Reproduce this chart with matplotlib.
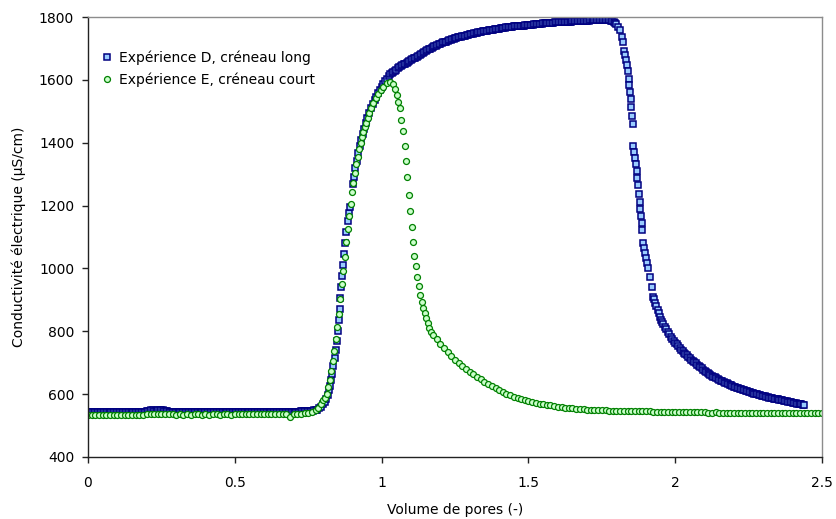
import matplotlib
matplotlib.use('Agg')
import matplotlib.pyplot as plt

# Expérience D : créneau long (carrés bleus)
d_x = [
    # palier initial
    0.000, 0.005, 0.010, 0.015, 0.020, 0.025, 0.030, 0.035, 0.040, 0.045,
    0.050, 0.055, 0.060, 0.065, 0.070, 0.075, 0.080, 0.085, 0.090, 0.095,
    0.100, 0.105, 0.110, 0.115, 0.120, 0.125, 0.130, 0.135, 0.140, 0.145,
    0.150, 0.155, 0.160, 0.165, 0.170, 0.175, 0.180, 0.185, 0.190, 0.195,
    0.200, 0.205, 0.210, 0.215, 0.220, 0.225, 0.230, 0.235, 0.240, 0.245,
    0.250, 0.255, 0.260, 0.265, 0.270, 0.275, 0.280, 0.285, 0.290, 0.295,
    0.300, 0.305, 0.310, 0.315, 0.320, 0.325, 0.330, 0.335, 0.340, 0.345,
    0.350, 0.355, 0.360, 0.365, 0.370, 0.375, 0.380, 0.385, 0.390, 0.395,
    0.400, 0.405, 0.410, 0.415, 0.420, 0.425, 0.430, 0.435, 0.440, 0.445,
    0.450, 0.455, 0.460, 0.465, 0.470, 0.475, 0.480, 0.485, 0.490, 0.495,
    0.500, 0.505, 0.510, 0.515, 0.520, 0.525, 0.530, 0.535, 0.540, 0.545,
    0.550, 0.555, 0.560, 0.565, 0.570, 0.575, 0.580, 0.585, 0.590, 0.595,
    0.600, 0.605, 0.610, 0.615, 0.620, 0.625, 0.630, 0.635, 0.640, 0.645,
    0.650, 0.655, 0.660, 0.665, 0.670, 0.675, 0.680, 0.685, 0.690, 0.695,
    0.700, 0.705, 0.710, 0.715, 0.720, 0.725, 0.730, 0.735, 0.740, 0.745,
    0.750, 0.755, 0.760, 0.765, 0.770, 0.775, 0.780,
    # montée
    0.788, 0.795, 0.801, 0.806, 0.811, 0.816, 0.820, 0.824, 0.828, 0.832,
    0.836, 0.840, 0.844, 0.848, 0.851, 0.854, 0.857, 0.860, 0.863, 0.866,
    0.869, 0.872, 0.876, 0.880, 0.884, 0.888, 0.892, 0.903, 0.907, 0.911,
    0.915, 0.920, 0.925, 0.930, 0.935, 0.940, 0.946, 0.952, 0.958, 0.964,
    0.970, 0.976, 0.982, 0.988, 0.994, 1.000, 1.006, 1.012, 1.018, 1.024,
    1.030,
    # plateau
    1.035, 1.040, 1.045, 1.050, 1.055, 1.060, 1.065, 1.070, 1.075, 1.080,
    1.085, 1.090, 1.095, 1.100, 1.105, 1.110, 1.115, 1.120, 1.125, 1.130,
    1.135, 1.140, 1.145, 1.150, 1.155, 1.160, 1.165, 1.170, 1.175, 1.180,
    1.185, 1.190, 1.195, 1.200, 1.205, 1.210, 1.215, 1.220, 1.225, 1.230,
    1.235, 1.240, 1.245, 1.250, 1.255, 1.260, 1.265, 1.270, 1.275, 1.280,
    1.285, 1.290, 1.295, 1.300, 1.305, 1.310, 1.315, 1.320, 1.325, 1.330,
    1.335, 1.340, 1.345, 1.350, 1.355, 1.360, 1.365, 1.370, 1.375, 1.380,
    1.385, 1.390, 1.395, 1.400, 1.405, 1.410, 1.415, 1.420, 1.425, 1.430,
    1.435, 1.440, 1.445, 1.450, 1.455, 1.460, 1.465, 1.470, 1.475, 1.480,
    1.485, 1.490, 1.495, 1.500, 1.505, 1.510, 1.515, 1.520, 1.525, 1.530,
    1.535, 1.540, 1.545, 1.550, 1.555, 1.560, 1.565, 1.570, 1.575, 1.580,
    1.585, 1.590, 1.595, 1.600, 1.605, 1.610, 1.615, 1.620, 1.625, 1.630,
    1.635, 1.640, 1.645, 1.650, 1.655, 1.660, 1.665, 1.670, 1.675, 1.680,
    1.685, 1.690, 1.695, 1.700, 1.705, 1.710, 1.715, 1.720, 1.725, 1.730,
    1.735, 1.740, 1.745, 1.750, 1.755, 1.760, 1.765, 1.770, 1.775, 1.780,
    1.785, 1.790, 1.795,
    # descente
    1.800, 1.806, 1.812, 1.818, 1.821, 1.826, 1.828, 1.831, 1.835, 1.838,
    1.842, 1.844, 1.846, 1.848, 1.851, 1.853, 1.855, 1.857, 1.860, 1.862,
    1.865, 1.869, 1.871, 1.874, 1.877, 1.879, 1.881, 1.884, 1.886, 1.888,
    1.890, 1.893, 1.896, 1.899, 1.903, 1.908, 1.914, 1.920, 1.925,
    # traînée
    1.928, 1.932, 1.936, 1.940, 1.944, 1.948, 1.952, 1.956, 1.960, 1.965,
    1.970, 1.975, 1.980, 1.985, 1.990, 1.995,
    2.000, 2.005, 2.010, 2.015, 2.020, 2.025, 2.030, 2.035, 2.040, 2.045,
    2.050, 2.055, 2.060, 2.065, 2.070, 2.075, 2.080, 2.085, 2.090, 2.095,
    2.100, 2.105, 2.110, 2.115, 2.120, 2.125, 2.130, 2.135, 2.140, 2.145,
    2.150, 2.155, 2.160, 2.165, 2.170, 2.175, 2.180, 2.185, 2.190, 2.195,
    2.200, 2.205, 2.210, 2.215, 2.220, 2.225, 2.230, 2.235, 2.240, 2.245,
    2.250, 2.255, 2.260, 2.265, 2.270, 2.275, 2.280, 2.285, 2.290, 2.295,
    2.300, 2.305, 2.310, 2.315, 2.320, 2.325, 2.330, 2.335, 2.340, 2.345,
    2.350, 2.355, 2.360, 2.365, 2.370, 2.375, 2.380, 2.385, 2.390, 2.395,
    2.400, 2.405, 2.410, 2.415, 2.420, 2.425, 2.430, 2.435, 2.440,
]
d_y = [
    543, 543, 543, 544, 544, 543, 543, 543, 543, 544,
    544, 543, 543, 543, 543, 544, 543, 543, 543, 543,
    543, 544, 544, 543, 543, 543, 543, 544, 544, 543,
    543, 544, 544, 543, 543, 544, 544, 544, 544, 544,
    545, 546, 547, 548, 549, 547, 546, 547, 548, 549,
    550, 548, 547, 546, 545, 544, 544, 544, 544, 544,
    544, 543, 543, 544, 544, 544, 544, 543, 543, 544,
    544, 544, 544, 543, 543, 544, 544, 544, 544, 544,
    544, 543, 543, 544, 544, 544, 544, 543, 544, 544,
    543, 544, 544, 544, 544, 544, 544, 543, 543, 544,
    544, 544, 544, 543, 543, 544, 544, 544, 544, 544,
    544, 543, 543, 544, 544, 544, 544, 544, 544, 544,
    544, 543, 543, 544, 544, 544, 544, 544, 544, 543,
    543, 544, 544, 544, 544, 544, 544, 543, 543, 544,
    544, 544, 544, 544, 544, 545, 545, 545, 545, 546,
    546, 546, 547, 547, 548, 549, 550,
    555, 560, 567, 575, 586, 598, 612, 627, 645, 665,
    690, 715, 742, 770, 800, 835, 870, 905, 940, 975,
    1010, 1045, 1080, 1115, 1150, 1175, 1195, 1268, 1292, 1318,
    1342, 1366, 1390, 1410, 1428, 1445, 1462, 1478, 1494, 1509,
    1522, 1535, 1547, 1558, 1568, 1578, 1587, 1596, 1604, 1611,
    1618,
    1621, 1625, 1629, 1633, 1637, 1640, 1643, 1646, 1649, 1652,
    1655, 1658, 1660, 1663, 1666, 1669, 1671, 1674, 1677, 1680,
    1682, 1685, 1688, 1691, 1694, 1697, 1699, 1702, 1704, 1707,
    1709, 1711, 1713, 1715, 1717, 1719, 1720, 1722, 1724, 1726,
    1727, 1729, 1730, 1732, 1733, 1735, 1736, 1738, 1739, 1740,
    1741, 1743, 1744, 1745, 1746, 1747, 1748, 1749, 1750, 1751,
    1752, 1753, 1754, 1755, 1756, 1757, 1758, 1759, 1759, 1760,
    1761, 1762, 1762, 1763, 1764, 1765, 1765, 1766, 1767, 1768,
    1768, 1769, 1769, 1770, 1770, 1771, 1771, 1772, 1772, 1773,
    1773, 1774, 1774, 1775, 1775, 1776, 1776, 1777, 1777, 1778,
    1778, 1779, 1779, 1780, 1780, 1780, 1780, 1781, 1781, 1782,
    1782, 1783, 1783, 1783, 1783, 1784, 1784, 1784, 1784, 1785,
    1785, 1785, 1785, 1786, 1786, 1786, 1786, 1787, 1787, 1787,
    1787, 1788, 1788, 1788, 1788, 1789, 1789, 1789, 1789, 1790,
    1790, 1790, 1790, 1790, 1790, 1790, 1790, 1789, 1789, 1788,
    1787, 1785, 1782,
    1778, 1768, 1759, 1737, 1721, 1693, 1679, 1663, 1647, 1628,
    1603, 1584, 1562, 1538, 1513, 1485, 1459, 1390, 1371, 1352,
    1332, 1311, 1287, 1265, 1237, 1212, 1189, 1167, 1144, 1122,
    1080, 1064, 1048, 1032, 1016, 1000, 974, 942, 910,
    903, 891, 880, 869, 858, 847, 837, 829, 822, 814,
    806, 798, 790, 783, 776, 770,
    764, 758, 752, 747, 742, 737, 732, 727, 723, 718,
    714, 710, 706, 702, 698, 694, 690, 686, 682, 678,
    675, 671, 668, 665, 662, 659, 656, 653, 651, 648,
    646, 643, 641, 638, 636, 634, 632, 630, 628, 626,
    624, 622, 620, 618, 617, 615, 614, 612, 611, 609,
    608, 606, 605, 603, 602, 600, 599, 598, 597, 595,
    594, 593, 592, 590, 589, 588, 587, 586, 585, 584,
    583, 582, 581, 580, 579, 578, 577, 576, 575, 574,
    573, 572, 571, 570, 569, 568, 567, 566, 565,
]

# Expérience E : créneau court (cercles verts)
e_x = [
    # palier initial
    0.000, 0.013, 0.025, 0.038, 0.050, 0.063, 0.075, 0.088, 0.100, 0.113,
    0.125, 0.138, 0.150, 0.163, 0.175, 0.188, 0.200, 0.213, 0.225, 0.238,
    0.250, 0.263, 0.275, 0.288, 0.300, 0.313, 0.325, 0.338, 0.350, 0.363,
    0.375, 0.388, 0.400, 0.413, 0.425, 0.438, 0.450, 0.463, 0.475, 0.488,
    0.500, 0.513, 0.525, 0.538, 0.550, 0.563, 0.575, 0.588, 0.600, 0.613,
    0.625, 0.638, 0.650, 0.663, 0.675, 0.688, 0.700, 0.713, 0.725, 0.738,
    0.750, 0.763,
    # montée
    0.775, 0.785, 0.795, 0.802, 0.808, 0.813, 0.818, 0.824, 0.829, 0.833,
    0.839, 0.845, 0.849, 0.855, 0.859, 0.864, 0.870, 0.874, 0.880, 0.885,
    0.890, 0.895, 0.899, 0.904, 0.909, 0.914, 0.920, 0.924, 0.929, 0.933,
    0.938, 0.942, 0.948, 0.953, 0.958, 0.964, 0.972, 0.981, 0.989, 0.997,
    1.006, 1.017, 1.029,
    # descente
    1.038, 1.046, 1.051, 1.057, 1.062, 1.066, 1.072, 1.079, 1.082, 1.087,
    1.092, 1.097, 1.103, 1.107, 1.111, 1.117, 1.122, 1.126, 1.132, 1.137,
    1.141, 1.147, 1.151, 1.157, 1.162, 1.168,
    # traînée
    1.175, 1.188, 1.200, 1.213, 1.225, 1.238, 1.250, 1.263, 1.275, 1.288,
    1.300, 1.313, 1.325, 1.338, 1.350, 1.363, 1.375, 1.388, 1.400, 1.413,
    1.425, 1.438, 1.450, 1.463, 1.475, 1.488, 1.500, 1.513, 1.525, 1.538,
    1.550, 1.563, 1.575, 1.588, 1.600, 1.613, 1.625, 1.638, 1.650, 1.663,
    1.675, 1.688, 1.700, 1.713, 1.725, 1.738, 1.750, 1.763, 1.775, 1.788,
    1.800, 1.813, 1.825, 1.838, 1.850, 1.863, 1.875, 1.888, 1.900, 1.913,
    1.925, 1.938, 1.950, 1.963, 1.975, 1.988, 2.000, 2.013, 2.025, 2.038,
    2.050, 2.063, 2.075, 2.088, 2.100, 2.113, 2.125, 2.138, 2.150, 2.163,
    2.175, 2.188, 2.200, 2.213, 2.225, 2.238, 2.250, 2.263, 2.275, 2.288,
    2.300, 2.313, 2.325, 2.338, 2.350, 2.363, 2.375, 2.388, 2.400, 2.413,
    2.425, 2.438, 2.450, 2.463, 2.475, 2.488, 2.500,
]
e_y = [
    535, 534, 534, 535, 534, 535, 534, 534, 535, 534,
    535, 534, 535, 535, 534, 535, 536, 536, 537, 536,
    536, 537, 536, 536, 535, 536, 535, 536, 535, 536,
    536, 535, 536, 535, 536, 536, 535, 536, 536, 535,
    536, 536, 537, 536, 536, 537, 536, 536, 537, 536,
    537, 536, 537, 536, 537, 527, 537, 538, 538, 539,
    541, 544,
    548, 557, 569, 580, 587, 600, 622, 646, 673, 705,
    738, 775, 813, 854, 903, 950, 993, 1037, 1083, 1125,
    1168, 1205, 1242, 1273, 1305, 1331, 1355, 1379, 1400, 1419,
    1435, 1451, 1462, 1478, 1494, 1510, 1525, 1541, 1555, 1568,
    1578, 1589, 1594,
    1587, 1570, 1553, 1529, 1510, 1473, 1436, 1389, 1342, 1290,
    1233, 1183, 1133, 1083, 1040, 1007, 972, 943, 915, 892,
    873, 857, 841, 826, 811, 797,
    788, 774, 760, 746, 733, 721, 710, 699, 689, 680,
    671, 663, 655, 647, 640, 633, 626, 619, 612, 606,
    601, 596, 592, 588, 584, 581, 578, 575, 573, 570,
    568, 566, 564, 562, 560, 558, 557, 556, 555, 554,
    553, 552, 551, 550, 549, 549, 548, 548, 547, 547,
    547, 546, 546, 546, 546, 545, 545, 545, 545, 545,
    544, 544, 544, 543, 543, 543, 543, 543, 543, 542,
    542, 542, 542, 542, 542, 541, 541, 542, 541, 541,
    541, 541, 541, 541, 540, 540, 540, 541, 540, 540,
    540, 540, 540, 540, 539, 540, 539, 539, 540, 539,
    539, 539, 539, 539, 539, 539, 539,
]

x_ticks = [0, 0.5, 1, 1.5, 2, 2.5]
x_tick_labels = ['0', '0.5', '1', '1.5', '2', '2.5']
y_ticks = [400, 600, 800, 1000, 1200, 1400, 1600, 1800]

plt.rcParams['font.family'] = ['DejaVu Sans']
plt.rcParams['font.size'] = 10

fig = plt.figure(figsize=(8.37, 5.19), dpi=100)
ax = fig.add_axes([0.1051, 0.1195, 0.8770, 0.8477])

ax.plot(d_x, d_y, linestyle='none', marker='s', markersize=4.1,
        markerfacecolor='#99CCFF', markeredgecolor='#000080', markeredgewidth=1.1,
        label='Expérience D, créneau long')
ax.plot(e_x, e_y, linestyle='none', marker='o', markersize=4.3,
        markerfacecolor='#CCFFCC', markeredgecolor='#008000', markeredgewidth=0.9,
        label='Expérience E, créneau court')

ax.set_xlim(0, 2.5)
ax.set_ylim(400, 1800)
ax.set_xticks(x_ticks)
ax.set_xticklabels(x_tick_labels)
ax.set_yticks(y_ticks)

for side in ['left', 'bottom']:
    ax.spines[side].set_color('#222222')
    ax.spines[side].set_linewidth(1.0)
for side in ['top', 'right']:
    ax.spines[side].set_color('#8c8c8c')
    ax.spines[side].set_linewidth(1.0)

ax.tick_params(axis='both', direction='out', length=4, width=1, color='#222222')
ax.tick_params(axis='x', pad=10)
ax.tick_params(axis='y', pad=6)

ax.set_xlabel('Volume de pores (-)', labelpad=9)
ax.set_ylabel('Conductivité électrique (µS/cm)', labelpad=9)

ax.legend(loc='upper left', bbox_to_anchor=(0.018, 0.925), frameon=False,
          borderpad=0, borderaxespad=0, handlelength=0.9, handletextpad=0.4,
          labelspacing=0.55, markerscale=1.0)

fig.savefig('out.png', dpi=100)
